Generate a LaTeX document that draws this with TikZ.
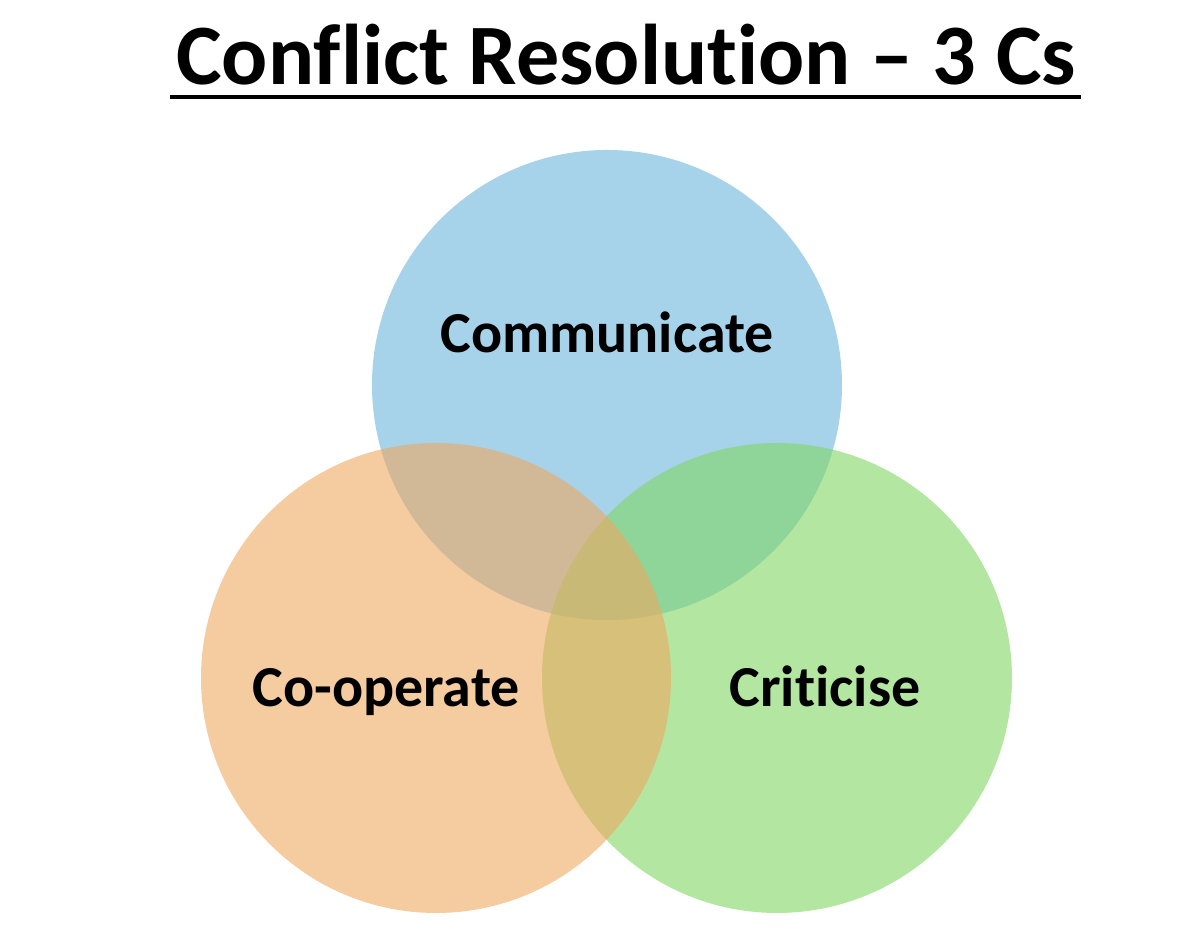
\documentclass[tikz,border=0pt]{standalone}
\usepackage{fontspec}
\setmainfont{Carlito}[Ligatures=NoCommon]
\usepackage{tikz}
\usetikzlibrary{positioning,calc}
\definecolor{commblue}{RGB}{108,182,220}
\definecolor{coopor}{RGB}{238,168,97}
\definecolor{critgr}{RGB}{128,213,97}
\tikzset{ring/.style={circle,minimum size=4.7cm,inner sep=0pt,fill opacity=.6},
  lbl/.style={font=\fontsize{16.5}{19}\selectfont\bfseries,anchor=base}}

\begin{document}
\begin{tikzpicture}
\useasboundingbox (0,0) rectangle (12,9.36);
\node[font=\fontsize{24.5}{29}\selectfont\bfseries,anchor=base,inner sep=0pt] (title) at (6.26,8.51){Conflict Resolution -- 3 Cs};
\draw[line width=1.15pt] ($(title.base west)+(-.06,-.12)$) coordinate (ulL) -- ($(title.base east)+(.05,-.12)$) coordinate (ulR);
% three circles
\node[ring,fill=commblue] (c1) at (6.07,5.51){};
\node[ring,fill=critgr] (c3) at (7.77,2.58){};
\node[ring,fill=coopor] (c2) at (4.36,2.58){};
\node[lbl] (com) at (6.07,5.83){Communicate};
\node[lbl] (coop) at (3.86,2.29){Co-operate};
\node[lbl] (crit) at (8.25,2.29){Criticise};
\end{tikzpicture}
\end{document}
